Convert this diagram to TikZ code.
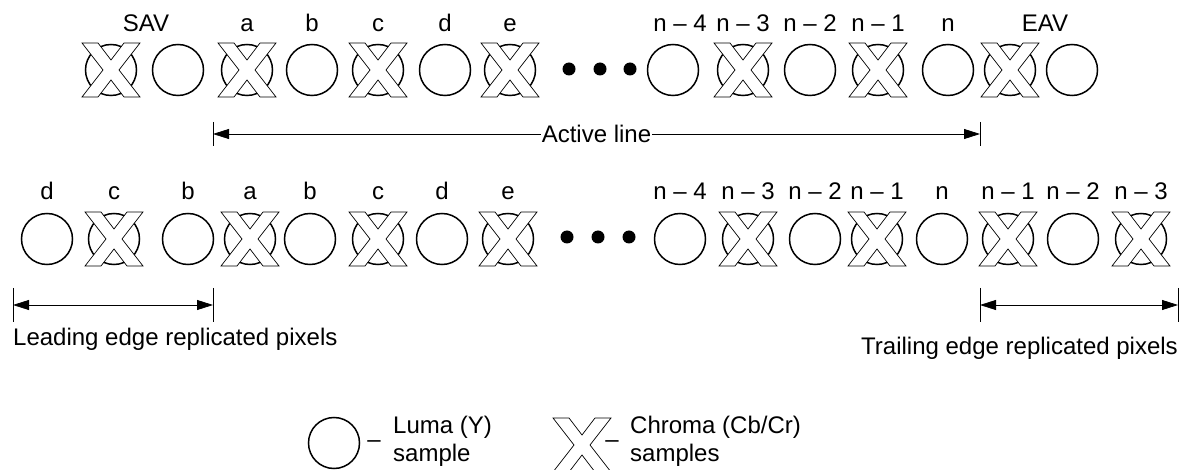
\documentclass[tikz,border=0pt]{standalone}
\usepackage{fontspec}
\setmainfont{Liberation Sans}
\usetikzlibrary{arrows.meta,positioning}

\tikzset{
  luma/.style={circle, draw, line width=1.5pt, minimum size=51pt, inner sep=0pt},
  lbl/.style={anchor=base, inner sep=0pt},
  dimline/.style={{Triangle[length=16pt,width=10pt]}-{Triangle[length=16pt,width=10pt]}, line width=0.8pt},
  tick/.style={line width=0.8pt},
  xmark/.pic={\filldraw[fill=white, line width=0.7pt] (-29,-27) -- (-13,-27) -- (0,-10) -- (13,-27) -- (29,-27) -- (8,0) -- (29,27) -- (13,27) -- (0,10) -- (-13,27) -- (-29,27) -- (-8,0) -- cycle;},
  chroma/.pic={\node[luma] (-ring) {}; \pic {xmark};},
}

\begin{document}
\begin{tikzpicture}[x=1pt, y=-1pt, font=\fontsize{24}{28}\selectfont]
        \useasboundingbox (0,0) rectangle (1189,470);
        % Upper row: samples with SAV/EAV
        \foreach \x [count=\i] in {178,312,445,673,810,948,1072}
            \node[luma] (ya\i) at (\x,70) {};
        \foreach \x [count=\i] in {111,247,378,510,743,878,1010}
            \pic (ca\i) at (\x,70) {chroma};
        \foreach \x [count=\i] in {569,600,630}
            \fill (\x,69) circle (6.5);
        \foreach \x/\s [count=\i] in {146/SAV,247/a,312/b,378/c,445/d,510/e,680/n -- 4,743/n -- 3,810/n -- 2,878/n -- 1,948/n,1045/EAV}
            \node[lbl] (la\i) at (\x,32) {\s};
        % Active line
        \coordinate (al) at (213,134);
        \coordinate (ar) at (980,134);
        \draw[tick] ([yshift=12pt]al) -- ([yshift=-12pt]al);
        \draw[tick] ([yshift=12pt]ar) -- ([yshift=-12pt]ar);
        \draw[dimline] (al) -- (ar) node[midway, fill=white, inner sep=1pt] (act) {Active line};
        % Lower row: replicated edges
        \foreach \x [count=\i] in {47,188,310,442,680,815,942,1073}
            \node[luma] (yb\i) at (\x,239) {};
        \foreach \x [count=\i] in {114,250,378,508,748,877,1008,1141}
            \pic (cb\i) at (\x,239) {chroma};
        \foreach \x [count=\i] in {567,598,629}
            \fill (\x,237) circle (6.5);
        \foreach \x/\s [count=\i] in {47/d,114/c,188/b,250/a,310/b,378/c,442/d,508/e,680/n -- 4,748/n -- 3,815/n -- 2,877/n -- 1,942/n,1008/n -- 1,1073/n -- 2,1141/n -- 3}
            \node[lbl] (lb\i) at (\x,200) {\s};
        % Edge arrows
        \coordinate (ll) at (13,305);
        \coordinate (lr) at (213,305);
        \coordinate (tl) at (980,305);
        \coordinate (tr) at (1178,305);
        \foreach \c in {ll,lr,tl,tr}
            \draw[tick] ([yshift=17pt]\c) -- ([yshift=-17pt]\c);
        \draw[dimline] (ll) -- (lr);
        \draw[dimline] (tl) -- (tr);
        \node[anchor=base west, inner sep=0pt] (lead) at (13,345) {Leading edge replicated pixels};
        \node[anchor=base east, inner sep=0pt] (trail) at (1178,355) {Trailing edge replicated pixels};
        % Legend
        \node[luma] (keyy) at (334,443) {};
        \node[lbl] (dy) at (374,447) {--};
        \node[anchor=base west, inner sep=0pt] (ty) at (393,433) {Luma (Y)};
        \node[anchor=base west, inner sep=0pt] (ty2) at (393,461) {sample};
        \pic (keyc) at (582,445) {xmark};
        \node[lbl] (dc) at (612,447) {--};
        \node[anchor=base west, inner sep=0pt] (tc) at (630,433) {Chroma (Cb/Cr)};
        \node[anchor=base west, inner sep=0pt] (tc2) at (630,461) {samples};
\end{tikzpicture}
\end{document}
